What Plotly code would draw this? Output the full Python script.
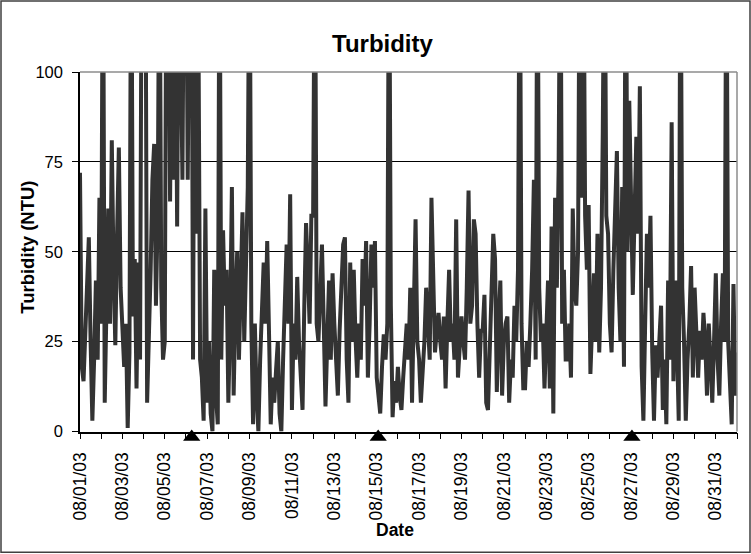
import pandas as pd
import plotly.graph_objects as go

# Turbidity readings (NTU), every 2 hours, one list per day (values >100 run off the chart)
aug01 = [72, 18, 14, 30, 40, 54, 25, 3, 20, 42, 20, 65]
aug02 = [30, 150, 8, 38, 62, 30, 81, 45, 24, 55, 79, 40]
aug03 = [25, 18, 30, 1, 22, 150, 32, 48, 12, 47, 20, 150]
aug04 = [150, 150, 8, 25, 45, 70, 80, 35, 60, 150, 40, 20]
aug05 = [25, 150, 150, 64, 120, 70, 130, 57, 140, 110, 70, 150]
aug06 = [150, 70, 140, 160, 20, 150, 55, 120, 20, 15, 3, 62]
aug07 = [8, 25, 5, 0, 45, 10, 2, 150, 20, 56, 35, 45]
aug08 = [8, 30, 68, 10, 35, 50, 20, 40, 61, 25, 45, 68]
aug09 = [150, 30, 2, 30, 10, 0, 20, 35, 47, 30, 53, 28]
aug10 = [2, 15, 8, 17, 25, 5, 0, 20, 40, 52, 30, 66]
aug11 = [6, 30, 20, 43, 25, 15, 6, 35, 58, 45, 30, 60]
aug12 = [60, 150, 30, 25, 40, 52, 30, 7, 25, 42, 20, 44]
aug13 = [30, 18, 10, 28, 40, 52, 54, 20, 8, 47, 25, 45]
aug14 = [26, 15, 30, 20, 48, 35, 53, 15, 30, 52, 40, 53]
aug15 = [15, 10, 5, 18, 27, 20, 30, 150, 35, 4, 14, 8]
aug16 = [18, 10, 6, 15, 22, 30, 20, 40, 8, 35, 59, 25]
aug17 = [20, 8, 15, 25, 40, 30, 20, 65, 35, 22, 28, 33]
aug18 = [25, 20, 32, 12, 30, 45, 25, 30, 20, 59, 15, 25]
aug19 = [32, 25, 20, 40, 67, 30, 35, 59, 55, 30, 15, 28]
aug20 = [28, 38, 8, 6, 25, 45, 55, 48, 11, 30, 42, 10]
aug21 = [25, 30, 32, 8, 20, 15, 35, 25, 45, 150, 30, 12]
aug22 = [12, 25, 18, 30, 45, 70, 20, 150, 40, 25, 30, 12]
aug23 = [25, 42, 12, 57, 5, 65, 40, 73, 150, 30, 45, 20]
aug24 = [20, 30, 15, 62, 40, 35, 50, 150, 65, 150, 60, 45]
aug25 = [63, 16, 30, 44, 25, 55, 22, 40, 83, 150, 60, 55]
aug26 = [30, 22, 45, 65, 78, 40, 25, 68, 18, 150, 50, 92]
aug27 = [60, 38, 60, 82, 55, 96, 18, 3, 30, 55, 40, 60]
aug28 = [22, 3, 24, 15, 25, 35, 6, 20, 2, 42, 20, 86]
aug29 = [14, 42, 25, 3, 150, 40, 25, 3, 20, 30, 46, 15]
aug30 = [40, 25, 15, 28, 20, 33, 25, 10, 30, 20, 8, 25]
aug31 = [44, 20, 10, 30, 44, 25, 150, 25, 15, 2, 41, 10]
sep01 = [22]

series_start = "2003-08-01 00:00"
sample_step = "2h"

# Event markers (triangles on the date axis)
event_times = ["2003-08-06 06:30", "2003-08-15 01:40", "2003-08-27 01:00"]
event_levels = [0, 0, 0]

# Axis labels
tick_dates = ["2003-08-%02d" % d for d in range(1, 32, 2)]
tick_labels = ["08/%02d/03" % d for d in range(1, 32, 2)]
y_ticks = [0, 25, 50, 75, 100]

turbidity = (aug01 + aug02 + aug03 + aug04 + aug05 + aug06 + aug07 + aug08 + aug09 + aug10
             + aug11 + aug12 + aug13 + aug14 + aug15 + aug16 + aug17 + aug18 + aug19 + aug20
             + aug21 + aug22 + aug23 + aug24 + aug25 + aug26 + aug27 + aug28 + aug29 + aug30
             + aug31 + sep01)
times = pd.date_range(series_start, periods=len(turbidity), freq=sample_step)

FONT = "Liberation Sans, Arial, sans-serif"

fig = go.Figure()
fig.add_trace(go.Scatter(
    x=times, y=turbidity, mode="lines",
    line=dict(color="#333333", width=4),
    hoverinfo="skip", showlegend=False,
))
fig.add_trace(go.Scatter(
    x=event_times, y=event_levels, mode="markers", yaxis="y2",
    marker=dict(symbol="triangle-up", size=15, color="black"),
    cliponaxis=False, showlegend=False, hoverinfo="skip",
))

W, H = 751, 554
L, R, T = 80, 14, 72
AXIS_Y = 432          # pixel row of the main x axis
MARK_DROP = 5.5       # triangles sit slightly below the axis line
B = H - (AXIS_Y + MARK_DROP)
pw, ph = W - L - R, H - T - B
main_bottom = MARK_DROP / ph

def px(x):
    return (x - L) / pw

def py(y):
    return (H - B - y) / ph

fig.update_layout(
    width=W, height=H,
    margin=dict(l=L, r=R, t=T, b=B),
    paper_bgcolor="white", plot_bgcolor="rgba(0,0,0,0)",
    font=dict(family=FONT, color="black"),
    xaxis=dict(
        type="date", range=["2003-08-01", "2003-09-01"], anchor="y",
        tickmode="array", tickvals=tick_dates, ticktext=tick_labels,
        tickangle=-90, tickfont=dict(size=17.5, family=FONT),
        ticks="outside", ticklen=6, tickcolor="black", tickwidth=1,
        ticklabelstandoff=6,
        showline=True, linecolor="black", linewidth=1.5,
        showgrid=False, zeroline=False,
        minor=dict(tickmode="linear", tick0="2003-08-01", dtick=86400000,
                   ticks="outside", ticklen=6, tickcolor="black", showgrid=False),
    ),
    yaxis=dict(
        domain=[main_bottom, 1],
        range=[0, 100], tickmode="array", tickvals=y_ticks,
        tickfont=dict(size=16.5, family=FONT),
        ticks="outside", ticklen=6, tickcolor="black",
        ticklabelstandoff=6,
        showline=True, linecolor="black", linewidth=1.5,
        showgrid=True, gridcolor="black", gridwidth=1, zeroline=False,
    ),
    yaxis2=dict(domain=[0, 1], anchor="x", range=[0, 100], visible=False,
                showgrid=False, zeroline=False),
    shapes=[
        dict(type="line", xref="paper", yref="paper", x0=0, x1=1, y0=1, y1=1,
             line=dict(color="#8c8c8c", width=1.5), layer="above"),
        dict(type="line", xref="paper", yref="paper", x0=1, x1=1, y0=main_bottom, y1=1,
             line=dict(color="#8c8c8c", width=1.5), layer="above"),
        dict(type="rect", xref="paper", yref="paper",
             x0=px(1), x1=px(W - 1), y0=py(H - 1), y1=py(1),
             line=dict(color="#404040", width=1.5), layer="above"),
    ],
    annotations=[
        dict(text="<b>Turbidity</b>", xref="paper", yref="paper",
             x=px(383), y=py(43), showarrow=False, xanchor="center", yanchor="middle",
             font=dict(size=24, family=FONT)),
        dict(text="<b>Turbidity (NTU)</b>", xref="paper", yref="paper",
             x=px(28), y=py(248), showarrow=False, textangle=-90,
             xanchor="center", yanchor="middle", font=dict(size=18.5, family=FONT)),
        dict(text="<b>Date</b>", xref="paper", yref="paper",
             x=px(395), y=py(531), showarrow=False, xanchor="center", yanchor="middle",
             font=dict(size=17.5, family=FONT)),
    ],
)

fig.write_html("out.html", config={"displayModeBar": False},
               post_script="document.body.style.margin='0px';"
               "document.body.style.overflow='hidden';")
